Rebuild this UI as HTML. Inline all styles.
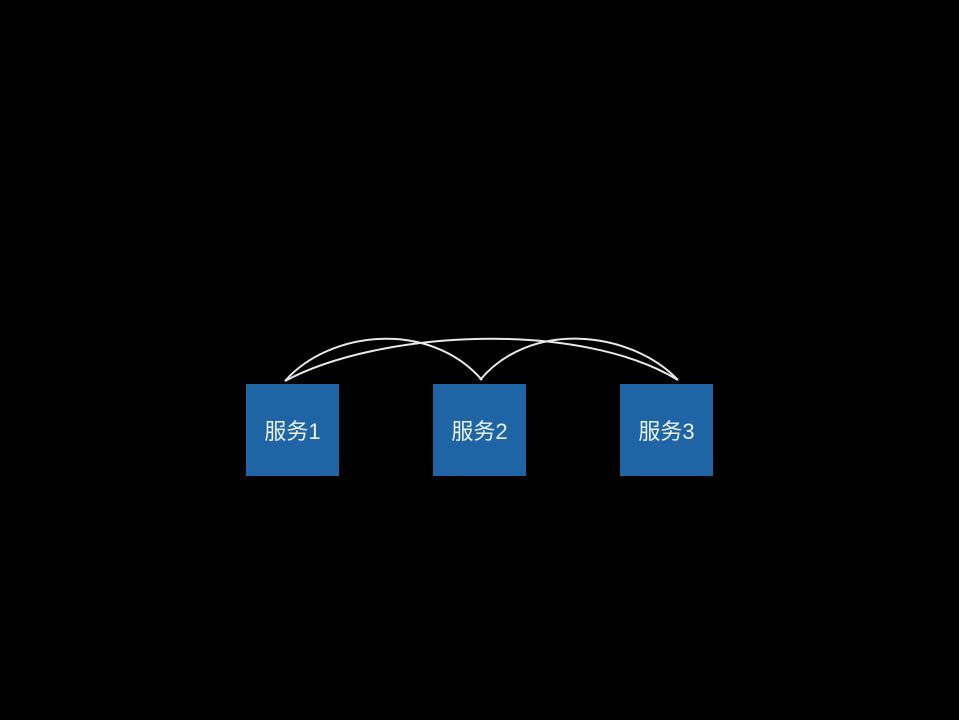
<!DOCTYPE html>
<html><head><meta charset="utf-8"><style>
body{margin:0;background:#000;width:959px;height:720px;overflow:hidden;position:relative}
.b{position:absolute;top:384px;width:93px;height:92px;background:#1f64a4;color:#eaf2fa;font-family:"Liberation Sans","Noto Sans CJK SC",sans-serif;font-size:22px;display:flex;align-items:center;justify-content:center}
svg{position:absolute;left:0;top:0}
</style></head><body>
<svg width="959" height="720"><g fill="none" stroke="#e8e8e8" stroke-width="2">
<path d="M285 381 C330 330 430 320 482 380"/>
<path d="M480 380 C530 320 630 330 678 380"/>
<path d="M285 381 C380 330 580 320 678 380"/>
</g></svg>
<div class="b" style="left:246px">服务1</div>
<div class="b" style="left:433px">服务2</div>
<div class="b" style="left:620px">服务3</div>
</body></html>
